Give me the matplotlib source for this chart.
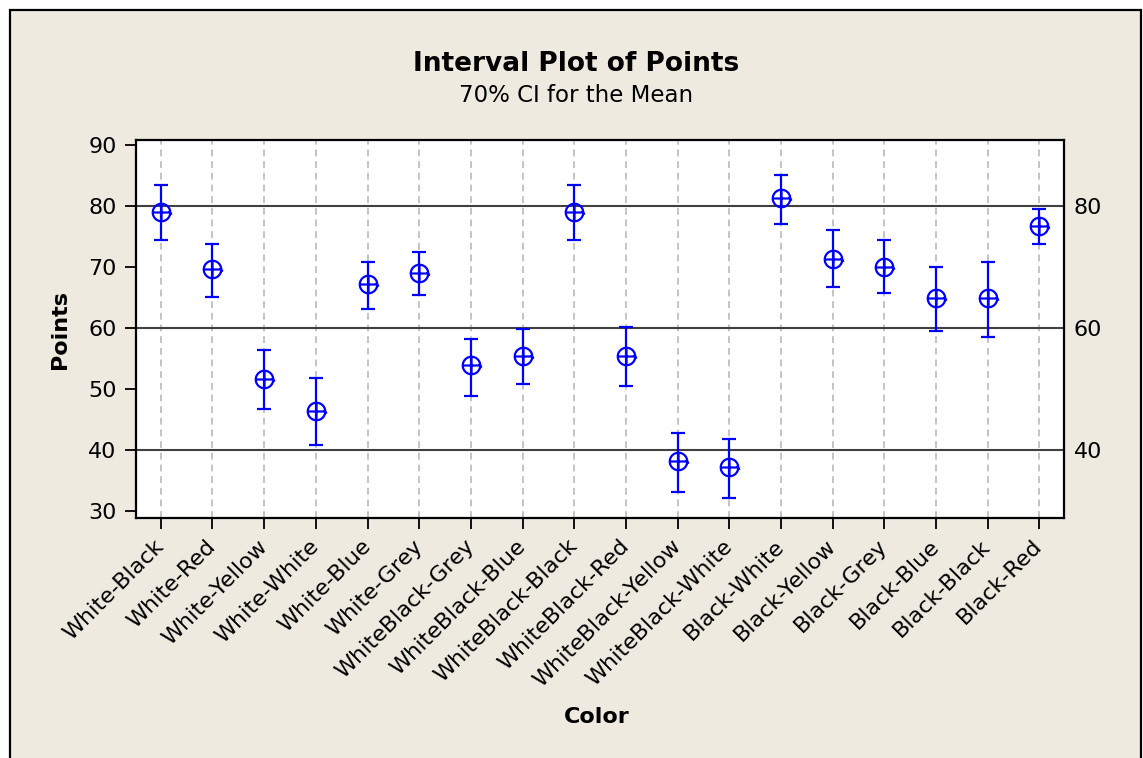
import numpy as np
import matplotlib.pyplot as plt
from matplotlib.path import Path
from matplotlib.patches import Rectangle

# interval plot: mean points with 70% CI per colour combination
colors = ['White-Black', 'White-Red', 'White-Yellow', 'White-White', 'White-Blue',
          'White-Grey', 'WhiteBlack-Grey', 'WhiteBlack-Blue', 'WhiteBlack-Black',
          'WhiteBlack-Red', 'WhiteBlack-Yellow', 'WhiteBlack-White', 'Black-White',
          'Black-Yellow', 'Black-Grey', 'Black-Blue', 'Black-Black', 'Black-Red']
means = [79.1, 69.7, 51.7, 46.5, 67.2, 69.1, 53.9, 55.5, 79.1,
         55.5, 38.2, 37.2, 81.4, 71.4, 70.0, 64.9, 64.9, 76.8]
lower = [74.4, 65.1, 46.7, 40.8, 63.1, 65.4, 48.9, 50.9, 74.4,
         50.6, 33.2, 32.2, 77.0, 66.7, 65.7, 59.6, 58.6, 73.8]
upper = [83.4, 73.8, 56.4, 51.9, 70.8, 72.5, 58.3, 59.9, 83.4,
         60.2, 42.8, 41.8, 85.1, 76.1, 74.4, 70.0, 70.8, 79.5]
ref_lines = [40, 60, 80]

plt.rcParams['font.family'] = ['DejaVu Sans']
bg = '#eeeae0'

fig = plt.figure(figsize=(11.43, 7.58), dpi=100, facecolor='white')
fig.patches.append(Rectangle((10 / 1143, -0.05), 1131 / 1143, 1 - 10 / 758 + 0.05,
                             transform=fig.transFigure, facecolor=bg,
                             edgecolor='black', linewidth=1.6, zorder=-10))

ax = fig.add_axes([0.119, 0.3166, 0.8119, 0.4987])
ax.set_facecolor('white')

x = np.arange(len(colors))
m = np.array(means)
lo = np.array(lower)
hi = np.array(upper)

# vertical dashed guides and horizontal reference lines
for xi in x:
    ax.axvline(xi, color='#c4c4c4', lw=1.4, ls=(0, (3.5, 2.5)), zorder=1)
for r in ref_lines:
    ax.axhline(r, color='#404040', lw=1.5, zorder=2)

ax.errorbar(x, m, yerr=[m - lo, hi - m], fmt='none', ecolor='#0000ff',
            elinewidth=1.6, capsize=5, capthick=1.6, zorder=3)

# circle with cross and a little hook, as the mean symbol
t = np.linspace(0, 2 * np.pi, 41)
verts = list(zip(np.cos(t), np.sin(t)))
codes = [Path.MOVETO] + [Path.LINETO] * 40
verts += [(-1, 0), (1, 0), (0, -1), (0, 1), (0.85, 0.2), (1.15, -0.25)]
codes += [Path.MOVETO, Path.LINETO] * 3
mean_marker = Path(verts, codes)
ax.plot(x, m, ls='none', marker=mean_marker, ms=14.5, mfc='none',
        mec='#0000ff', mew=1.6, zorder=4)

ax.set_xlim(-0.48, len(colors) - 0.52)
ax.set_ylim(28.92, 90.82)
ax.set_yticks([30, 40, 50, 60, 70, 80, 90])
ax.set_xticks(x)
ax.set_xticklabels(colors, rotation=45, ha='right', va='center',
                   rotation_mode='anchor', fontsize=16)
ax.tick_params(axis='both', direction='out', length=8, width=1.3,
               labelsize=16, pad=6)
ax.tick_params(axis='x', pad=10)
for s in ax.spines.values():
    s.set_linewidth(1.6)

ax2 = ax.twinx()
ax2.set_ylim(ax.get_ylim())
ax2.set_yticks(ref_lines)
ax2.tick_params(axis='y', length=0, labelsize=16, pad=7)
for s in ax2.spines.values():
    s.set_visible(False)

ax.set_ylabel('Points', fontsize=16, fontweight='bold', labelpad=13)
fig.text(597 / 1143, 1 - 717 / 758, 'Color', ha='center', va='center',
         fontsize=16, fontweight='bold')
fig.text(576 / 1143, 1 - 64 / 758, 'Interval Plot of Points', ha='center',
         va='center', fontsize=19, fontweight='bold')
fig.text(576 / 1143, 1 - 96 / 758, '70% CI for the Mean', ha='center',
         va='center', fontsize=16.5)

fig.savefig('out.png', dpi=100, facecolor=fig.get_facecolor())
